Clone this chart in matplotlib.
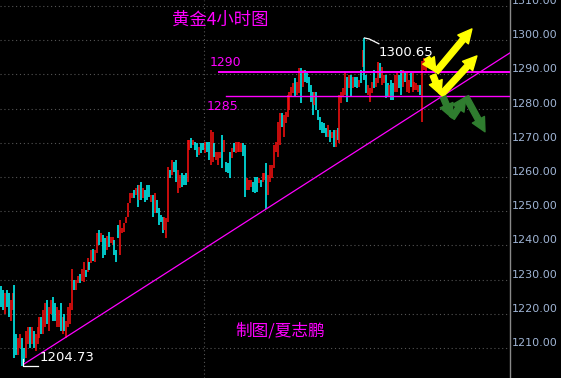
import matplotlib
matplotlib.use("Agg")
import matplotlib.pyplot as plt
import numpy as np

# 4h gold candles: high, low, up(1 = red/up, 0 = cyan/down)
highs = [1228, 1227, 1226, 1227, 1226, 1224, 1226, 1228.5, 1214, 1213,
         1214, 1213, 1210, 1215, 1216, 1216, 1216, 1215, 1214, 1216,
         1219, 1219, 1221, 1223, 1224, 1222, 1224, 1225, 1223, 1222,
         1221, 1223, 1219, 1220, 1218, 1222, 1223, 1233, 1230, 1230,
         1231, 1231.6, 1233, 1235, 1232.8, 1236.3, 1235, 1238.7, 1239, 1238.7,
         1243.6, 1244.5, 1243.6, 1243, 1242.2, 1242.8, 1243.9, 1242.5, 1242.5, 1241.6,
         1238.7, 1246, 1247.5, 1245.1, 1246.6, 1248.4, 1252.4, 1255.3, 1255.3, 1256.2,
         1256.8, 1257.7, 1257.7, 1258.5, 1256.8, 1256.2, 1257.7, 1257.7, 1254.7, 1254.7,
         1255.3, 1253.3, 1250.9, 1248.9, 1248.3, 1248.3, 1248, 1262.9, 1262, 1265,
         1264.4, 1265, 1262, 1260.6, 1261.2, 1260.6, 1261.2, 1270.8, 1270.8, 1271.4,
         1270.8, 1270.2, 1269.9, 1268.8, 1269.9, 1269.9, 1270.2, 1270.2, 1270.2, 1273.7,
         1273.2, 1269.9, 1267.3, 1267.3, 1267.3, 1272.3, 1270.8, 1264.4, 1264.1, 1267.3,
         1268.5, 1269.9, 1270.2, 1270.2, 1270.2, 1269.9, 1270, 1269.4, 1259.7, 1259.1,
         1259.1, 1258.5, 1260, 1260, 1259.7, 1259.1, 1261.2, 1261.2, 1264.1, 1260.6,
         1263.5, 1263.5, 1269.4, 1270.2, 1276.1, 1278.7, 1278.7, 1278.1, 1279, 1284,
         1284.9, 1286.3, 1287.5, 1288.9, 1287.8, 1291.9, 1291.9, 1291.3, 1291.3, 1290.4,
         1289.2, 1286.9, 1284.9, 1284.9, 1284.9, 1279.6, 1277.5, 1276.1, 1275.8, 1274.3,
         1275.2, 1273.7, 1273.2, 1273.7, 1273.7, 1274.3, 1284, 1284.9, 1286, 1290.4,
         1289.2, 1289.8, 1289.8, 1289.2, 1289.2, 1289.2, 1288.4, 1291.3, 1297.1, 1300.65,
         1289.8, 1286.9, 1286, 1287.8, 1291.3, 1288.9, 1293.6, 1293.3, 1292.2, 1289.8,
         1289.8, 1287.5, 1286.9, 1288.4, 1287.5, 1289.8, 1290.7, 1289.8, 1291.3, 1291.3,
         1290.7, 1290.7, 1288.4, 1290.4, 1290.4, 1287.8, 1287.5, 1286.9, 1287, 1293.9,
         1294.8, 1294]
lows = [1222, 1221, 1220, 1222, 1219, 1218, 1221, 1207, 1208, 1208,
        1210, 1204.73, 1206, 1207, 1211, 1210, 1211, 1210, 1209, 1211,
        1213, 1214, 1214, 1216, 1217, 1215, 1220, 1218, 1218, 1216,
        1216, 1215, 1214, 1215, 1213, 1216, 1217, 1221, 1227, 1227,
        1229, 1229, 1229.5, 1229.3, 1230.8, 1232.2, 1232.8, 1234.9, 1235.5, 1235.2,
        1237.8, 1240.1, 1241, 1236.3, 1237.2, 1238.5, 1239.5, 1240.7, 1240.1, 1237.2,
        1235.2, 1242, 1237.2, 1243.6, 1243.9, 1246.6, 1248.4, 1252.4, 1253.8, 1253.8,
        1254.7, 1251.2, 1253.3, 1253.3, 1253.8, 1252.7, 1253.3, 1254.2, 1252.7, 1248.3,
        1249.5, 1249.5, 1246, 1246.8, 1243.6, 1244.5, 1242.2, 1246.8, 1259.7, 1260.6,
        1261.5, 1258.5, 1255.3, 1256.8, 1257.1, 1257.7, 1257.7, 1258.5, 1267.9, 1268.5,
        1269.4, 1267.9, 1265.8, 1266.4, 1267, 1267.9, 1267, 1267.3, 1265, 1263.5,
        1264.4, 1265.8, 1265, 1263.5, 1265.6, 1262.6, 1267.3, 1261.5, 1261.2, 1259.7,
        1265.6, 1267.3, 1267, 1267.3, 1267.3, 1267.3, 1266, 1254.2, 1256.2, 1256.2,
        1257.1, 1255.6, 1255.3, 1255.6, 1258.2, 1257.1, 1258.5, 1259.1, 1250.5, 1254.7,
        1258.5, 1259.7, 1262.6, 1267.3, 1265.8, 1269.4, 1274.6, 1271.7, 1275.8, 1277.5,
        1279.6, 1283.4, 1284.6, 1283.4, 1284, 1284.6, 1281.6, 1286.3, 1287.8, 1287.5,
        1284.9, 1281.9, 1278.1, 1281, 1279.6, 1276.7, 1273.7, 1272.9, 1272.9, 1271.7,
        1271.7, 1270.2, 1271.4, 1268.8, 1268.8, 1270.8, 1270, 1281.6, 1283.4, 1284,
        1281.9, 1286, 1283.4, 1286, 1286.3, 1286, 1286.3, 1287.5, 1292.2, 1288.4,
        1284.6, 1284, 1281.9, 1284.6, 1286, 1286.3, 1287.5, 1288.9, 1286.9, 1287.5,
        1283.1, 1283.4, 1283.4, 1282.5, 1282.5, 1284.9, 1284.9, 1286, 1284, 1286.3,
        1287.8, 1284.9, 1284.6, 1286.3, 1284.9, 1285.4, 1285.4, 1284.9, 1284, 1276.1,
        1291.3, 1290.5]
up = [0, 0, 1, 0, 0, 1, 1, 0, 0, 1,
      1, 0, 0, 1, 1, 0, 1, 0, 1, 1,
      1, 0, 1, 1, 0, 1, 1, 0, 0, 1,
      1, 0, 1, 0, 1, 1, 1, 1, 0, 1,
      1, 0, 1, 1, 0, 1, 0, 1, 0, 1,
      1, 0, 1, 0, 0, 1, 0, 1, 1, 0,
      0, 0, 1, 1, 1, 1, 1, 1, 1, 0,
      1, 0, 1, 0, 1, 0, 0, 0, 1, 0,
      1, 0, 0, 0, 0, 1, 1, 1, 0, 1,
      0, 0, 1, 1, 0, 0, 0, 1, 1, 0,
      1, 0, 0, 1, 0, 0, 1, 0, 0, 1,
      1, 0, 1, 1, 1, 0, 1, 0, 0, 0,
      1, 0, 1, 1, 1, 1, 0, 0, 1, 1,
      1, 0, 0, 0, 1, 0, 1, 1, 0, 1,
      1, 1, 1, 1, 1, 1, 0, 1, 1, 1,
      1, 1, 1, 0, 1, 1, 0, 1, 0, 0,
      0, 0, 0, 1, 0, 0, 0, 0, 0, 0,
      1, 0, 1, 0, 1, 0, 1, 1, 1, 1,
      0, 1, 0, 1, 0, 0, 1, 0, 1, 0,
      0, 1, 1, 1, 0, 1, 1, 0, 1, 1,
      0, 0, 1, 0, 0, 1, 1, 0, 0, 1,
      0, 1, 1, 0, 1, 1, 1, 1, 0, 1,
      1, 1]

# annotation levels / lines
level_hi = 1290.7
level_lo = 1283.8
trend_start = (12.0, 1205.3)
trend_end = (264.7, 1296.3)
yellow_arrows = [((221.5, 1294.8), (226.2, 1290.7)),
                 ((226.2, 1290.7), (244.9, 1303.3)),
                 ((224.6, 1289.8), (228.8, 1284.0)),
                 ((228.8, 1284.0), (247.5, 1295.4))]
green_arrows = [((229.9, 1283.4), (234.5, 1277.3)),
                ((234.5, 1277.3), (241.8, 1283.4)),
                ((241.8, 1283.4), (251.7, 1273.2))]
yticks = [1210, 1220, 1230, 1240, 1250, 1260, 1270, 1280, 1290, 1300, 1310]

highs = np.array(highs)
lows = np.array(lows)
up = np.array(up, dtype=bool)
x = np.arange(len(highs))

fig = plt.figure(figsize=(5.61, 3.78), dpi=100, facecolor='black')
ax = fig.add_axes([0, 0, 510 / 561, 1])
ax.set_facecolor('black')
ax.set_xlim(-0.52, 264.7)
ax.set_ylim(1201.2, 1311.75)

# grid
for t in yticks:
    ax.axhline(t, color='#555555', lw=0.8, ls=(0, (1, 2.5)), zorder=0)
ax.axvline(105.6, color='#555555', lw=0.8, ls=(0, (1, 2.5)), zorder=0)

colors = np.where(up, '#ff1010', '#00ffff')
ax.vlines(x, lows, highs, colors=colors, lw=1.1, zorder=2)

# levels and trend line
ax.plot([113.4, 264.7], [level_hi, level_hi], color='#ff00ff', lw=1.4, zorder=3)
ax.plot([117.0, 264.7], [level_lo, level_lo], color='#ff00ff', lw=1.0, zorder=3)
ax.plot([trend_start[0], trend_end[0]], [trend_start[1], trend_end[1]],
        color='#ff00ff', lw=0.9, zorder=3)

# low / high markers
i_lo = int(np.argmin(lows))
i_hi = int(np.argmax(highs))
ax.plot([i_lo + 0.5, i_lo + 0.5, i_lo + 8.5], [lows[i_lo] + 1.9, lows[i_lo], lows[i_lo]],
        color='white', lw=0.9, zorder=4)
ax.text(i_lo + 9.0, 1207.1, '%.2f' % lows[i_lo], color='white', fontsize=9.5,
        va='center', ha='left')
ax.plot([i_hi, i_hi + 2.5, i_hi + 7.5], [highs[i_hi], highs[i_hi] - 0.3, highs[i_hi] - 1.7],
        color='white', lw=0.9, zorder=4)
ax.text(i_hi + 7.5, 1296.5, '%.2f' % highs[i_hi], color='white', fontsize=9.5,
        va='center', ha='left')

# arrows
arrow_style = 'simple,head_width=0.9,head_length=0.9,tail_width=0.38'
for (s, e) in yellow_arrows:
    ax.annotate('', xy=e, xytext=s, zorder=5,
                arrowprops=dict(arrowstyle=arrow_style, color='#ffff00',
                                shrinkA=0, shrinkB=0, mutation_scale=11))
for (s, e) in green_arrows:
    ax.annotate('', xy=e, xytext=s, zorder=5,
                arrowprops=dict(arrowstyle=arrow_style, color='#2f7d2f',
                                shrinkA=0, shrinkB=0, mutation_scale=11))

cjk = ['Noto Sans CJK SC', 'DejaVu Sans']
ax.text(113.9, 1305.9, '黄金4小时图', color='#ff00ff', fontsize=12.5, family=cjk,
        ha='center', va='center')
ax.text(145.1, 1215.0, '制图/夏志鹏', color='#ff00ff', fontsize=12, family=cjk,
        ha='center', va='center')
ax.text(117.0, 1293.6, '1290', color='#ff00ff', fontsize=9, ha='center', va='center')
ax.text(115.4, 1280.6, '1285', color='#ff00ff', fontsize=9, ha='center', va='center')

# right price axis
for s in ['top', 'bottom', 'left']:
    ax.spines[s].set_visible(False)
ax.spines['right'].set_color('#8a8a8a')
ax.spines['right'].set_linewidth(1.0)
ax.set_xticks([])
ax.yaxis.tick_right()
ax.set_yticks(yticks)
ax.set_yticklabels(['%.2f' % t for t in yticks])
ax.tick_params(axis='y', length=0, pad=1, labelsize=8, labelcolor='#9fb4d4')
for lab in ax.get_yticklabels():
    lab.set_verticalalignment('bottom')

fig.savefig('out.png', dpi=100, facecolor='black')
